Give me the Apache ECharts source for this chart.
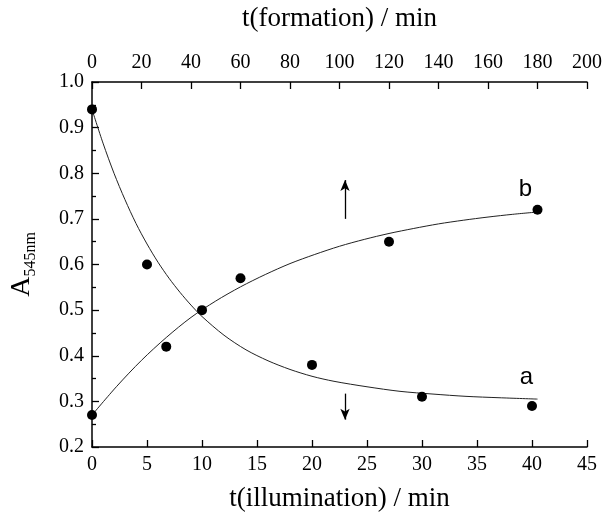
<!DOCTYPE html>
<html>
<head>
<meta charset="utf-8">
<script src="https://cdn.jsdelivr.net/npm/echarts@6/dist/echarts.min.js"></script>
<style>html,body{margin:0;padding:0;background:#fff}#c{width:605px;height:517px}</style>
</head>
<body>
<div id="c"></div>
<script>
// ---- data ----
// series a: absorbance vs illumination time (bottom axis, min)
const aTime = [0, 5, 10, 20, 30, 40];
const aVal  = [0.94, 0.60, 0.50, 0.38, 0.31, 0.29];
// series b: absorbance vs formation time (top axis, min)
const bTime = [0, 30, 60, 120, 180];
const bVal  = [0.27, 0.42, 0.57, 0.65, 0.72];
// fitted curve a, bottom axis
const aCurveT = [0, 1, 2, 3, 4, 5, 6, 7, 8, 9, 10, 12, 14, 16, 18, 20, 22, 25, 28, 31, 34, 37, 40.5];
const aCurveV = [0.94, 0.866, 0.80, 0.742, 0.69, 0.645, 0.605, 0.57, 0.539, 0.511, 0.486, 0.445, 0.413, 0.389, 0.37, 0.355, 0.344, 0.332, 0.322, 0.316, 0.311, 0.308, 0.305];
// fitted curve b, top axis
const bCurveT = [0, 10, 20, 30, 40, 50, 60, 70, 80, 90, 100, 110, 120, 130, 140, 150, 160, 170, 180];
const bCurveV = [0.27, 0.333, 0.39, 0.44, 0.484, 0.52, 0.551, 0.578, 0.602, 0.622, 0.64, 0.655, 0.668, 0.679, 0.689, 0.697, 0.704, 0.71, 0.715];
// arrows (bottom-axis data coords): [x, from, to]
const arrowUp   = [23, 0.70, 0.785];
const arrowDown = [23, 0.317, 0.26];
// curve labels
const curveLabels = [['a', 39.5, 0.353], ['b', 39.4, 0.764]];
// axis ticks
const bottomTicks = {min: 0, max: 45, interval: 5};
const topTicks = {min: 0, max: 200, interval: 20};
const yTicks = {min: 0.2, max: 1.0, interval: 0.1};

const zip = (t, v) => t.map((x, i) => [x, v[i]]);
const serif = 'Liberation Serif';
const tickLbl = {fontFamily: serif, fontSize: 20, color: '#000'};
const axLine = {show: true, onZero: false, lineStyle: {color: '#000', width: 1.5}};
const tick = {inside: true, length: 7, lineStyle: {color: '#000', width: 1.3}};

const chart = echarts.init(document.getElementById('c'), null, {renderer: 'canvas'});
chart.setOption({
  animation: false,
  backgroundColor: '#fff',
  grid: {left: 88, right: 17, top: 79, bottom: 62},
  xAxis: [
    {type: 'value', position: 'bottom', ...bottomTicks,
     name: 't(illumination) / min', nameLocation: 'middle', nameGap: 38,
     nameTextStyle: {fontFamily: serif, fontSize: 27, color: '#000'},
     axisLine: axLine, axisTick: tick,
     axisLabel: {...tickLbl, margin: 8}, splitLine: {show: false}},
    {type: 'value', position: 'top', ...topTicks,
     name: 't(formation) / min', nameLocation: 'middle', nameGap: 50,
     nameTextStyle: {fontFamily: serif, fontSize: 27, color: '#000'},
     axisLine: axLine, axisTick: tick,
     axisLabel: {...tickLbl, margin: 9}, splitLine: {show: false}}
  ],
  yAxis: {type: 'value', ...yTicks,
    name: '{a|A}{s|545nm}', nameLocation: 'middle', nameGap: 56,
    nameTextStyle: {rich: {
      a: {fontFamily: serif, fontSize: 28, color: '#000'},
      s: {fontFamily: serif, fontSize: 16, color: '#000', verticalAlign: 'bottom', padding: [0, 0, -3, 0]}
    }},
    axisLine: axLine, axisTick: tick,
    minorTick: {show: true, splitNumber: 2, length: 4, lineStyle: {color: '#000', width: 1.3}},
    axisLabel: {...tickLbl, margin: 8, formatter: v => v.toFixed(1)},
    splitLine: {show: false}},
  series: [
    {type: 'line', xAxisIndex: 0, data: zip(aCurveT, aCurveV), smooth: 0.3, showSymbol: false,
     lineStyle: {color: '#222', width: 1}, z: 2,
     markLine: {silent: true, symbol: ['none', 'arrow'], symbolSize: [7, 11], label: {show: false},
       lineStyle: {color: '#000', width: 1.3, type: 'solid'},
       data: [
         [{coord: [arrowUp[0], arrowUp[1]]}, {coord: [arrowUp[0], arrowUp[2]]}],
         [{coord: [arrowDown[0], arrowDown[1]]}, {coord: [arrowDown[0], arrowDown[2]]}]
       ]}},
    {type: 'line', xAxisIndex: 1, data: zip(bCurveT, bCurveV), smooth: 0.3, showSymbol: false,
     lineStyle: {color: '#222', width: 1}, z: 2},
    {type: 'scatter', xAxisIndex: 0, data: zip(aTime, aVal), symbolSize: 10,
     itemStyle: {color: '#000', opacity: 1}, z: 3},
    {type: 'scatter', xAxisIndex: 1, data: zip(bTime, bVal), symbolSize: 10,
     itemStyle: {color: '#000', opacity: 1}, z: 3},
    {type: 'scatter', xAxisIndex: 0, symbolSize: 0, itemStyle: {opacity: 1},
     data: curveLabels.map(d => ({value: [d[1], d[2]], name: d[0]})),
     label: {show: true, position: 'inside', formatter: p => p.name, opacity: 1,
       fontFamily: 'Liberation Sans', fontSize: 24, color: '#000'}}
  ]
});
</script>
</body>
</html>
